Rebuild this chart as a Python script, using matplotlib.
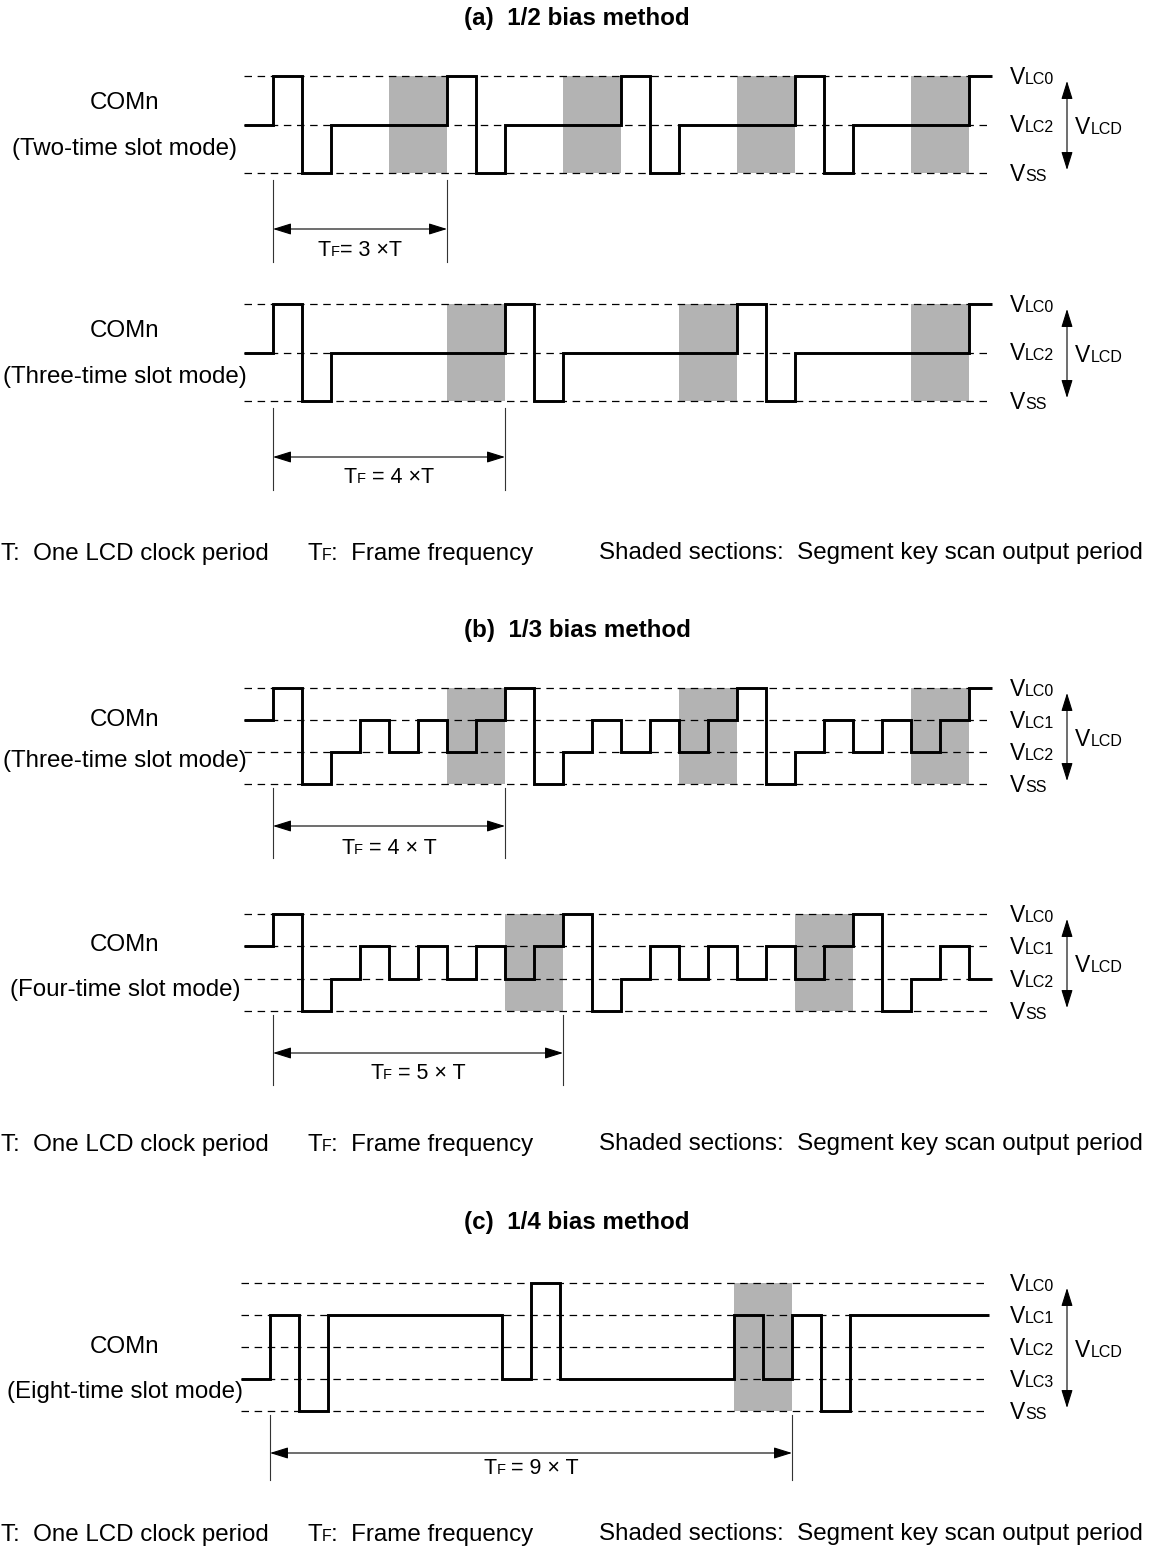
import numpy as np
import matplotlib
matplotlib.use('Agg')
import matplotlib.pyplot as plt
from matplotlib.transforms import blended_transform_factory as blend

plt.rcParams['font.family'] = ['Liberation Sans', 'DejaVu Sans']

W, H = 1153, 1562

# voltage level names, top to bottom
levels_half = ['LC0', 'LC2', 'SS']
levels_third = ['LC0', 'LC1', 'LC2', 'SS']
levels_quarter = ['LC0', 'LC1', 'LC2', 'LC3', 'SS']

# COMn level (index into level list) for each half clock slot, from one slot before the frame start
wave_a_two = [1, 0, 2, 1, 1, 1, 1, 0, 2, 1, 1, 1, 1, 0, 2, 1, 1, 1, 1, 0, 2, 1, 1, 1, 1, 0]
wave_a_three = [1, 0, 2, 1, 1, 1, 1, 1, 1, 0, 2, 1, 1, 1, 1, 1, 1, 0, 2, 1, 1, 1, 1, 1, 1, 0]
wave_b_three = [1, 0, 3, 2, 1, 2, 1, 2, 1, 0, 3, 2, 1, 2, 1, 2, 1, 0, 3, 2, 1, 2, 1, 2, 1, 0]
wave_b_four = [1, 0, 3, 2, 1, 2, 1, 2, 1, 2, 1, 0, 3, 2, 1, 2, 1, 2, 1, 2, 1, 0, 3, 2, 1, 2]
wave_c_eight = [3, 1, 4, 1, 1, 1, 1, 1, 1, 3, 0, 3, 3, 3, 3, 3, 3, 1, 3, 1, 4, 1, 1, 1, 1, 1]

# start slot of each shaded (segment key scan) section, 2 slots wide
shade_a_two = [4, 10, 16, 22]
shade_a_three = [6, 14, 22]
shade_b_three = [6, 14, 22]
shade_b_four = [8, 18]
shade_c_eight = [16]

# frame length in slots and the TF label
frame_a_two, tf_a_two = 6, ('= 3 \u00d7T')
frame_a_three, tf_a_three = 8, (' = 4 \u00d7T')
frame_b_three, tf_b_three = 8, (' = 4 \u00d7 T')
frame_b_four, tf_b_four = 10, (' = 5 \u00d7 T')
frame_c_eight, tf_c_eight = 18, (' = 9 \u00d7 T')

titles = ['(a)  1/2 bias method', '(b)  1/3 bias method', '(c)  1/4 bias method']
title_y = [18, 631, 1222]
note_y = [553, 1144, 1534]

FS = 17.4

fig = plt.figure(figsize=(W / 100, H / 100), dpi=100)
base = fig.add_axes([0, 0, 1, 1])
base.set_xlim(0, W)
base.set_ylim(H, 0)
base.axis('off')
renderer = fig.canvas.get_renderer()

U = 29.0  # px per half slot
T0, T1 = -1, 24.8


def rich(x, y, parts, ha='left', trans=None):
    # pieces of text on one baseline, (string, fontsize)
    trans = trans or base.transData
    arts = [base.text(x, y, s, fontsize=fs, va='baseline', ha='left', transform=trans) for s, fs in parts]
    widths = [a.get_window_extent(renderer).width for a in arts]
    xx = x - sum(widths) / 2 if ha == 'center' else x
    for a, w in zip(arts, widths):
        a.set_x(xx)
        xx += w


def panel(wave, levels, shades, frame, tf_text, mode, x0, ytop, ybot, comn_y, mode_y,
          arrow_y, vl, tf_y):
    ax = fig.add_axes([(x0 + T0 * U) / W, 1 - ybot / H, (T1 - T0) * U / W, (ybot - ytop) / H])
    ax.set_xlim(T0, T1)
    ax.set_ylim(0, 1)
    ax.axis('off')
    vals = np.linspace(1, 0, len(levels))
    edges = np.arange(len(wave) + 1, dtype=float) + T0
    edges[-1] = T1
    for s in shades:
        ax.axvspan(s, s + 2, color='#b3b3b3', lw=0, zorder=0)
    ax.hlines(vals, T0, T1, colors='black', linestyles=(0, (6, 4.5)), lw=0.9, zorder=1, clip_on=False)
    ax.stairs(vals[np.array(wave)], edges, baseline=None, color='black', lw=2.1, zorder=2, clip_on=False)

    # frame length marker
    tr = blend(ax.transData, base.transData)
    for xv in (0, frame):
        ax.plot([xv, xv], vl, transform=tr, color='#333333', lw=0.8, clip_on=False)
    base.annotate('', xy=(frame, arrow_y), xytext=(0, arrow_y), xycoords=tr, textcoords=tr,
                  arrowprops=dict(arrowstyle='<|-|>,head_length=0.8,head_width=0.25', color='black',
                                  lw=0.8, mutation_scale=14, shrinkA=0, shrinkB=0))
    xc = ax.transData.transform((frame / 2, 0))[0]
    rich(xc, tf_y + 6, [('T', 15.5), ('F', 10.5), (tf_text, 15.5)], ha='center')

    # left labels
    base.text(125, comn_y, 'COMn', fontsize=FS, ha='center', va='center')
    base.text(125, mode_y, mode, fontsize=FS, ha='center', va='center')

    # right labels
    for v, name in zip(vals, levels):
        yp = H - ax.transData.transform((0, v))[1]
        rich(1010, yp + 8, [('V', 16.5), (name, 11.5)])
    base.annotate('', xy=(1067, ytop + 5), xytext=(1067, ybot - 3),
                  arrowprops=dict(arrowstyle='<|-|>,head_length=0.8,head_width=0.25', color='black',
                                  lw=0.8, mutation_scale=14, shrinkA=0, shrinkB=0))
    rich(1075, (ytop + ybot) / 2 + 10, [('V', 16.5), ('LCD', 11.5)])


panel(wave_a_two, levels_half, shade_a_two, frame_a_two, tf_a_two, '(Two-time slot mode)',
      273, 76, 173, 103, 149, 229, (180, 262), 250)
panel(wave_a_three, levels_half, shade_a_three, frame_a_three, tf_a_three, '(Three-time slot mode)',
      273, 304, 401, 331, 377, 457, (408, 490), 477)
panel(wave_b_three, levels_third, shade_b_three, frame_b_three, tf_b_three, '(Three-time slot mode)',
      273, 688, 784, 720, 761, 826, (788, 858), 848)
panel(wave_b_four, levels_third, shade_b_four, frame_b_four, tf_b_four, '(Four-time slot mode)',
      273, 914, 1011, 945, 990, 1053, (1015, 1085), 1073)
panel(wave_c_eight, levels_quarter, shade_c_eight, frame_c_eight, tf_c_eight, '(Eight-time slot mode)',
      270, 1283, 1411, 1347, 1392, 1453, (1415, 1480), 1468)

for t, ty, ny in zip(titles, title_y, note_y):
    base.text(577, ty, t, fontsize=FS, fontweight='bold', ha='center', va='center')
    rich(1, ny + 7, [('T:  One LCD clock period', FS)])
    rich(307, ny + 7, [('T', FS), ('F', 11.5), (':  Frame frequency', FS)])
    base.text(1143, ny, 'Shaded sections:  Segment key scan output period', fontsize=FS,
              ha='right', va='center')

fig.savefig('out.png', dpi=100)
